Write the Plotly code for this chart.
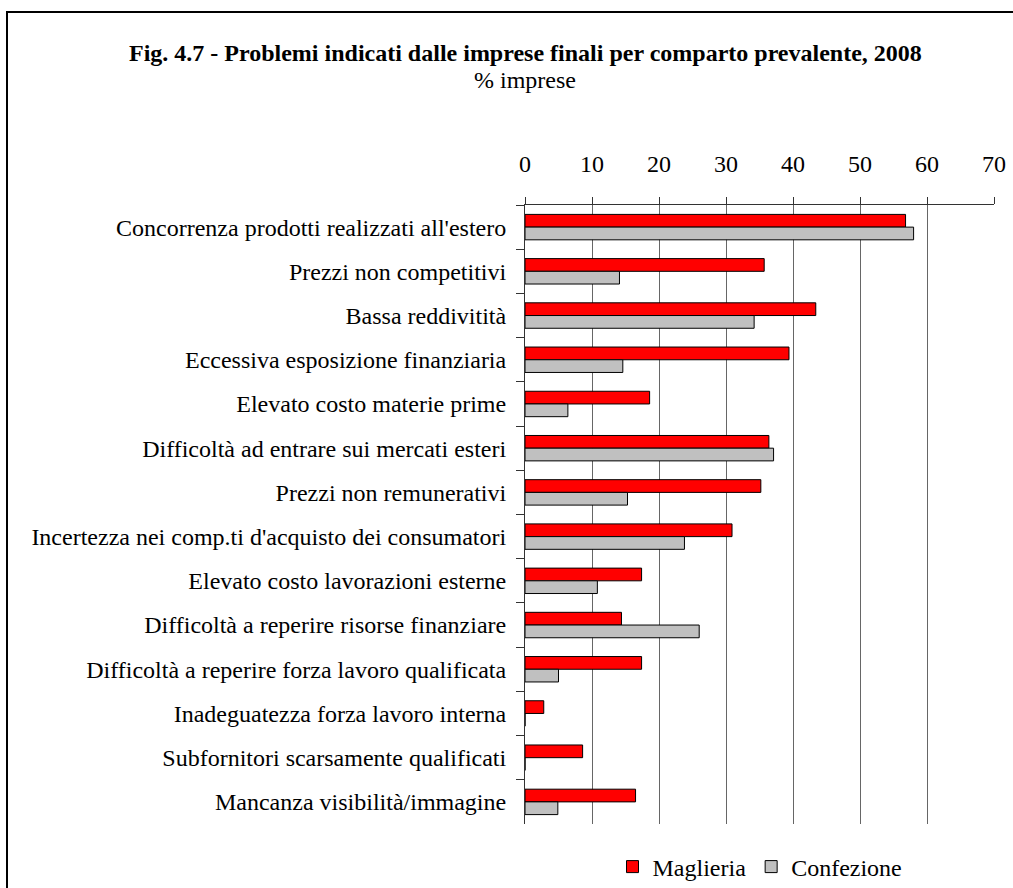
import plotly.graph_objects as go

# Problems reported by final firms, by prevailing sector (% of firms)
categories = [
    "Concorrenza prodotti realizzati all'estero",
    "Prezzi non competitivi",
    "Bassa reddivitità",
    "Eccessiva esposizione finanziaria",
    "Elevato costo materie prime",
    "Difficoltà ad entrare sui mercati esteri",
    "Prezzi non remunerativi",
    "Incertezza nei comp.ti d'acquisto dei consumatori",
    "Elevato costo lavorazioni esterne",
    "Difficoltà a reperire risorse finanziare",
    "Difficoltà a reperire forza lavoro qualificata",
    "Inadeguatezza forza lavoro interna",
    "Subfornitori scarsamente qualificati",
    "Mancanza visibilità/immagine",
]
maglieria = [56.8, 35.7, 43.4, 39.4, 18.6, 36.4, 35.2, 30.9, 17.4, 14.4, 17.4, 2.8, 8.6, 16.5]
confezione = [58.0, 14.1, 34.2, 14.6, 6.4, 37.1, 15.3, 23.8, 10.8, 26.0, 5.0, 0.0, 0.0, 4.9]
x_ticks = [0, 10, 20, 30, 40, 50, 60, 70]

FONT = "Liberation Serif"
FS = 24
W, H = 1013, 888
L, R, T, B = 525, 19, 205, 64
pw, ph = W - L - R, H - T - B

fig = go.Figure()
fig.add_trace(go.Bar(
    y=categories, x=maglieria, name="Maglieria", orientation="h",
    marker=dict(color="#FF0000", line=dict(color="#000000", width=1)),
))
fig.add_trace(go.Bar(
    y=categories, x=confezione, name="Confezione", orientation="h",
    marker=dict(color="#C0C0C0", line=dict(color="#000000", width=1)),
))

fig.update_layout(
    width=W, height=H,
    margin=dict(l=L, r=R, t=T, b=B, autoexpand=False),
    paper_bgcolor="white", plot_bgcolor="white",
    barmode="group", bargap=0.425, bargroupgap=0,
    font=dict(family=FONT, color="#000000", size=FS),
    showlegend=True,
    legend=dict(
        orientation="h", xref="paper", x=(760 - L) / pw, xanchor="center",
        yref="container", y=1 - 867 / H, yanchor="middle",
        traceorder="normal", font=dict(family=FONT, size=FS),
        itemwidth=30, bgcolor="rgba(0,0,0,0)",
    ),
    xaxis=dict(
        side="top", range=[0, 70], tickvals=x_ticks, ticktext=[str(v) for v in x_ticks],
        showgrid=True, gridcolor="#666666", gridwidth=1,
        showline=True, linecolor="#333333", linewidth=1,
        ticks="outside", ticklen=7, tickcolor="#333333",
        ticklabelstandoff=15, zeroline=False,
        tickfont=dict(family=FONT, size=FS),
    ),
    yaxis=dict(
        autorange="reversed", type="category",
        showline=True, linecolor="#333333", linewidth=1,
        ticks="outside", ticklen=8, tickcolor="#333333", tickson="boundaries",
        ticklabelstandoff=13, showgrid=False,
        tickfont=dict(family=FONT, size=FS),
    ),
)

# Title and subtitle, centred over the chart
fig.add_annotation(
    text="<b>Fig. 4.7 - Problemi indicati dalle imprese finali per comparto prevalente, 2008</b>",
    xref="paper", yref="paper", x=(525 - L) / pw, y=1 + (T - 53) / ph,
    xanchor="center", yanchor="middle", showarrow=False,
    font=dict(family=FONT, size=24, color="#000000"),
)
fig.add_annotation(
    text="% imprese",
    xref="paper", yref="paper", x=(525 - L) / pw, y=1 + (T - 80) / ph,
    xanchor="center", yanchor="middle", showarrow=False,
    font=dict(family=FONT, size=FS, color="#000000"),
)

# Outer frame around the figure
fig.add_shape(
    type="rect", xref="paper", yref="paper",
    x0=(7 - L) / pw, x1=1 + (R + 10) / pw,
    y0=-(B + 20) / ph, y1=1 + (T - 12) / ph,
    line=dict(color="#000000", width=2), fillcolor="rgba(0,0,0,0)", layer="below",
)

fig.write_html("out.html")
